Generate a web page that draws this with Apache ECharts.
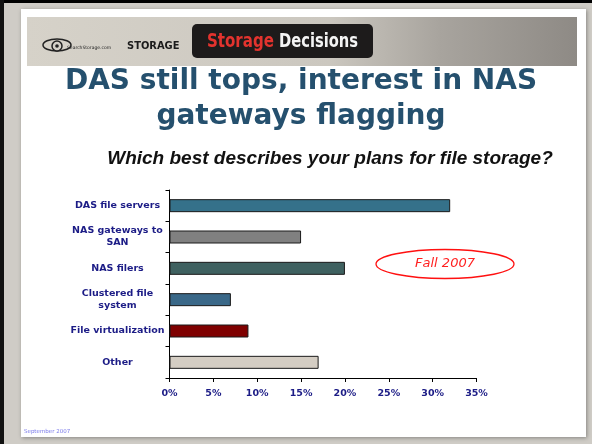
<!DOCTYPE html>
<html>
<head>
<meta charset="utf-8">
<script src="https://cdn.jsdelivr.net/npm/echarts@6/dist/echarts.min.js"></script>
<style>
  html, body { margin: 0; padding: 0; background: #fff; }
  #main { width: 592px; height: 444px; }
</style>
</head>
<body>
<div id="main"></div>
<script>
// survey answers, top to bottom
var categories = [
  "DAS file servers",
  "NAS gateways to\nSAN",
  "NAS filers",
  "Clustered file\nsystem",
  "File virtualization",
  "Other"
];
var shares = [32, 15, 20, 7, 9, 17];
var barColors = ["#35718a", "#808080", "#3f6160", "#3a6888", "#7f0000", "#d4cdc3"];
var tickLabels = ["0%", "5%", "10%", "15%", "20%", "25%", "30%", "35%"];

var myChart = echarts.init(document.getElementById("main"));
var option;

var navy = "#1c1c86";

option = {
  animation: false,
  backgroundColor: "#cfccc6",
  grid: { left: 169.5, right: 115.5, top: 190, bottom: 66 },
  xAxis: {
    type: "value",
    min: 0,
    max: 35,
    interval: 5,
    axisLine: { show: true, lineStyle: { color: "#000", width: 1 } },
    axisTick: { show: true, length: 4, lineStyle: { color: "#000" } },
    splitLine: { show: false },
    axisLabel: {
      color: navy,
      fontFamily: "DejaVu Sans",
      fontWeight: "bold",
      fontSize: 9.5,
      margin: 11,
      formatter: function (v) {
        return tickLabels[Math.round(v / 5)];
      }
    }
  },
  yAxis: {
    type: "category",
    inverse: true,
    data: categories,
    axisLine: { show: true, lineStyle: { color: "#000", width: 1 } },
    axisTick: { show: true, length: 4, alignWithLabel: false, lineStyle: { color: "#000" } },
    axisLabel: {
      color: navy,
      fontFamily: "DejaVu Sans",
      fontWeight: "bold",
      fontSize: 9.5,
      lineHeight: 12,
      align: "center",
      margin: 52
    }
  },
  graphic: [
    // slide frame
    { type: "rect", z: -10, shape: { x: 0, y: 0, width: 592, height: 3 }, style: { fill: "#000" } },
    { type: "rect", z: -10, shape: { x: 0, y: 0, width: 4, height: 444 }, style: { fill: "#111" } },
    { type: "rect", z: -10, shape: { x: 21, y: 9, width: 565, height: 428 },
      style: { fill: "#fff", shadowBlur: 4, shadowColor: "rgba(0,0,0,0.35)", shadowOffsetX: 1, shadowOffsetY: 1 } },
    // banner
    { type: "rect", z: -5, shape: { x: 27, y: 17, width: 550, height: 49 },
      style: {
        fill: new echarts.graphic.LinearGradient(0, 0, 1, 0, [
          { offset: 0, color: "#d6d2c9" },
          { offset: 0.55, color: "#cbc7bf" },
          { offset: 0.75, color: "#a8a49e" },
          { offset: 1, color: "#8e8a85" }
        ])
      } },
    // eye logo
    { type: "ellipse", z: 1, shape: { cx: 57, cy: 45, rx: 14, ry: 6 },
      style: { fill: "none", stroke: "#222", lineWidth: 1.5 } },
    { type: "circle", z: 2, shape: { cx: 57, cy: 46, r: 5 }, style: { fill: "#d4d0c8", stroke: "#222", lineWidth: 1.5 } },
    { type: "circle", z: 3, shape: { cx: 57, cy: 46, r: 1.8 }, style: { fill: "#222" } },
    { type: "text", z: 3, style: { text: "SearchStorage.com", x: 67, y: 48, fill: "#222", font: "4.5px 'DejaVu Sans'", textVerticalAlign: "middle" } },
    { type: "text", z: 3, style: { text: "STORAGE", x: 127, y: 46, fill: "#1b1b1b", font: "bold 11px 'DejaVu Sans Condensed'", textVerticalAlign: "middle" } },
    { type: "rect", z: 1, shape: { x: 192, y: 24, width: 181, height: 34, r: 5 }, style: { fill: "#1d1b1b" } },
    { type: "text", z: 3, x: 207, y: 42, scaleX: 0.88,
      style: { text: "Storage", x: 0, y: 0, fill: "#e3332e", font: "bold 19px 'DejaVu Sans Condensed'", textVerticalAlign: "middle" } },
    { type: "text", z: 3, x: 279, y: 42, scaleX: 0.86,
      style: { text: "Decisions", x: 0, y: 0, fill: "#f4f4f4", font: "bold 19px 'DejaVu Sans Condensed'", textVerticalAlign: "middle" } },
    // title and question
    { type: "text", z: 3, style: { text: "DAS still tops, interest in NAS", x: 301, y: 82, fill: "#25506e", font: "bold 28px 'DejaVu Sans'", textAlign: "center", textVerticalAlign: "middle" } },
    { type: "text", z: 3, style: { text: "gateways flagging", x: 301, y: 117, fill: "#25506e", font: "bold 28px 'DejaVu Sans'", textAlign: "center", textVerticalAlign: "middle" } },
    { type: "text", z: 3, style: { text: "Which best describes your plans for file storage?", x: 330, y: 159, fill: "#111", font: "italic bold 19px 'Liberation Sans'", textAlign: "center", textVerticalAlign: "middle" } },
    // callout
    { type: "ellipse", z: 3, shape: { cx: 445, cy: 264, rx: 69, ry: 14.5 }, style: { fill: "none", stroke: "#ff1010", lineWidth: 1.3 } },
    { type: "text", z: 3, style: { text: "Fall 2007", x: 445, y: 264, fill: "#ff2020", font: "italic 13px 'DejaVu Sans'", textAlign: "center", textVerticalAlign: "middle" } },
    // footer
    { type: "text", z: 3, style: { text: "September 2007", x: 24, y: 432, fill: "#7b7bea", font: "5.5px 'DejaVu Sans'", textVerticalAlign: "middle" } }
  ],
  series: [
    {
      type: "bar",
      barWidth: 13,
      data: shares.map(function (v, i) {
        return { value: v, itemStyle: { color: barColors[i] } };
      }),
      itemStyle: { borderColor: "#1a1a1a", borderWidth: 1 }
    }
  ]
};

option && myChart.setOption(option);
</script>
</body>
</html>
